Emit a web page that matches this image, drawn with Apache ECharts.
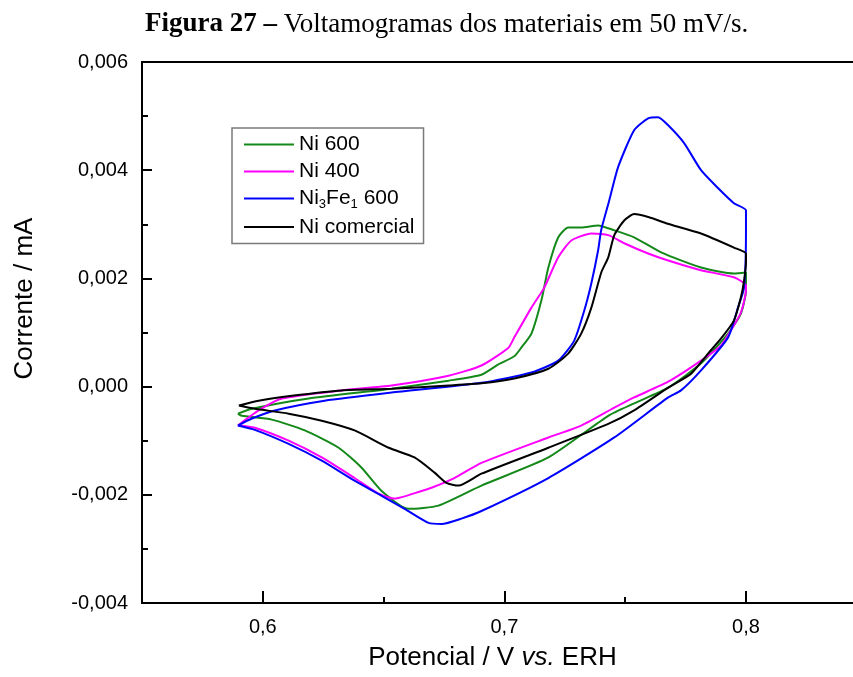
<!DOCTYPE html>
<html><head><meta charset="utf-8">
<script src="https://cdn.jsdelivr.net/npm/echarts@6/dist/echarts.min.js"></script>
<style>html,body{margin:0;padding:0;background:#fff}#c{width:853px;height:677px}</style>
</head><body><div id="c"></div>
<script>
// ---- data: [potential V, current mA] ordered along the sweep loop ----
const seriesNames = ['Ni 600', 'Ni 400', 'Ni3Fe1 600', 'Ni comercial'];
const seriesColors = ['#14891a', '#ff00ff', '#0000ff', '#000000'];

const ni600 = [
  [0.5897,-0.0005],[0.5955,-0.00041],[0.619,-0.00022],[0.6533,-0.00004],[0.6769,0.00011],
  [0.6905,0.00022],[0.6975,0.00041],[0.7041,0.00056],[0.707,0.00072],[0.7112,0.00098],
  [0.7153,0.00159],[0.7182,0.0022],[0.7223,0.00276],[0.7264,0.00294],[0.7318,0.00294],
  [0.7388,0.00298],[0.7455,0.00289],[0.7537,0.00276],[0.7649,0.00248],[0.7814,0.0022],
  [0.795,0.00209],[0.8,0.00211],
  [0.8,0.00178],[0.7979,0.00135],[0.7926,0.00098],[0.7814,0.00043],[0.7678,-0.00002],
  [0.7537,-0.00031],[0.743,-0.00054],[0.7182,-0.00131],[0.6905,-0.00183],[0.6727,-0.0022],
  [0.6603,-0.00226],[0.6492,-0.00193],[0.6409,-0.0015],[0.6314,-0.00113],[0.6174,-0.00081],
  [0.6037,-0.00061],[0.5913,-0.00054],[0.5897,-0.0005]
];

const ni400 = [
  [0.5897,-0.00072],[0.5983,-0.00044],[0.6079,-0.00022],[0.6326,-0.00007],[0.6533,0.00002],
  [0.6769,0.0002],[0.6905,0.00039],[0.7017,0.00072],[0.7041,0.00091],[0.7112,0.00146],
  [0.7165,0.00183],[0.7223,0.00239],[0.7277,0.0027],[0.736,0.00283],[0.743,0.0028],
  [0.7496,0.00265],[0.7595,0.00246],[0.7678,0.00233],[0.7814,0.00215],[0.795,0.00202],
  [0.8,0.00187],
  [0.8,0.00178],[0.7979,0.00137],[0.7938,0.00104],[0.7897,0.00076],[0.7814,0.00048],
  [0.7678,0.00009],[0.7537,-0.0002],[0.7455,-0.00039],[0.7318,-0.00072],[0.7182,-0.00094],
  [0.6905,-0.00141],[0.6793,-0.00169],[0.6698,-0.00187],[0.6657,-0.00193],[0.6545,-0.00207],
  [0.6479,-0.00198],[0.638,-0.00169],[0.6244,-0.00131],[0.6107,-0.001],[0.5967,-0.00076],
  [0.5897,-0.00072]
];

const ni3fe1_600 = [
  [0.5897,-0.00072],[0.5955,-0.00059],[0.605,-0.00044],[0.6256,-0.00026],[0.6533,-0.00011],
  [0.6905,0.00007],[0.7112,0.00026],[0.7223,0.00048],[0.7289,0.00085],[0.7331,0.00141],
  [0.736,0.00191],[0.7388,0.00252],[0.7401,0.0029],[0.7434,0.00344],[0.7471,0.00406],
  [0.7537,0.00474],[0.7595,0.00496],[0.7636,0.00498],[0.7678,0.00483],[0.7744,0.0045],
  [0.7814,0.004],[0.7884,0.00367],[0.795,0.00339],[0.8,0.00326],
  [0.8,0.0029],[0.7992,0.00183],[0.7967,0.00146],[0.7926,0.00091],[0.7814,0.0003],
  [0.7731,-0.00007],[0.7678,-0.0002],[0.7455,-0.00094],[0.7182,-0.00169],[0.6905,-0.0023],
  [0.6822,-0.00244],[0.674,-0.00254],[0.6686,-0.00252],[0.6587,-0.00226],[0.6492,-0.00202],
  [0.638,-0.00174],[0.6244,-0.00137],[0.6107,-0.00106],[0.5967,-0.0008],[0.5897,-0.00072]
];

const niComercial = [
  [0.5901,-0.00035],[0.5983,-0.00026],[0.612,-0.00017],[0.6326,-0.00007],[0.6533,-0.00004],
  [0.6769,0.00002],[0.6905,0.00006],[0.7041,0.00015],[0.7182,0.00033],[0.7264,0.00061],
  [0.7318,0.00098],[0.736,0.00146],[0.7401,0.00211],[0.743,0.00239],[0.7455,0.0028],
  [0.7496,0.00307],[0.7537,0.00319],[0.7599,0.00313],[0.7669,0.00302],[0.7814,0.00283],
  [0.795,0.00257],[0.8,0.00246],
  [0.8,0.0023],[0.7992,0.00196],[0.7979,0.00165],[0.795,0.00122],[0.7897,0.00089],
  [0.7843,0.00061],[0.7773,0.00024],[0.7678,-0.00002],[0.7537,-0.00044],[0.743,-0.00069],
  [0.7182,-0.00113],[0.6905,-0.00161],[0.681,-0.00183],[0.676,-0.00178],[0.6711,-0.00159],
  [0.6628,-0.00131],[0.6521,-0.00113],[0.638,-0.00081],[0.6244,-0.00063],[0.6107,-0.0005],
  [0.5967,-0.00041],[0.5901,-0.00035]
];

const xMajorTicks = [0.6, 0.7, 0.8];
const xMinorTicks = [0.65, 0.75];
const yRange = [-0.004, 0.006];
const yStep = 0.002;
const xRange = [0.55, 0.8443];

const titleBold = 'Figura 27 – ';
const titleRest = 'Voltamogramas dos materiais em 50 mV/s.';
const yName = 'Corrente / mA';

// ---- chart ----
const SANS = 'Liberation Sans, Arial, sans-serif';
const SERIF = 'Liberation Serif, Times New Roman, serif';
const seriesData = [ni600, ni400, ni3fe1_600, niComercial];
const axisColor = '#000';

const chart = echarts.init(document.getElementById('c'), null, {renderer: 'canvas'});
chart.setOption({
  animation: false,
  backgroundColor: '#fff',
  title: {
    text: '{b|' + titleBold + '}{r|' + titleRest + '}',
    left: 145, top: 11, padding: 0,
    textStyle: {
      fontWeight: 'normal',
      rich: {
        b: {fontFamily: SERIF, fontWeight: 'bold', fontSize: 27, color: '#000'},
        r: {fontFamily: SERIF, fontWeight: 'normal', fontSize: 27, color: '#000'}
      }
    }
  },
  legend: {
    orient: 'vertical', left: 232, top: 128,
    padding: [6, 9, 6, 12], itemGap: 6, itemWidth: 50, itemHeight: 2,
    icon: 'rect',
    backgroundColor: '#fff', borderColor: '#7a7a7a', borderWidth: 1.5,
    data: seriesNames,
    formatter: function (n) {
      if (n === 'Ni3Fe1 600') return '{a|Ni}{s|3}{a|Fe}{s|1}{a| 600}';
      return '{a|' + n + '}';
    },
    textStyle: {
      fontFamily: SANS, fontSize: 21, color: '#000',
      rich: {
        a: {fontFamily: SANS, fontSize: 21, color: '#000'},
        s: {fontFamily: SANS, fontSize: 13, color: '#000', padding: [11, 0, 0, 0]}
      }
    }
  },
  grid: {left: 142, right: 0, top: 62, bottom: 74, containLabel: false},
  xAxis: [
    {
      type: 'value', min: xRange[0], max: xRange[1], position: 'bottom',
      axisLine: {show: true, onZero: false, lineStyle: {color: axisColor, width: 2}},
      axisTick: {show: true, inside: true, length: 12, customValues: xMajorTicks,
                 lineStyle: {color: axisColor, width: 2}},
      axisLabel: {show: true, customValues: xMajorTicks, margin: 14,
                  formatter: v => v.toFixed(1).replace('.', ','),
                  fontFamily: SANS, fontSize: 20, color: '#000'},
      splitLine: {show: false},
      name: '{n|Potencial / V }{i|vs.}{n| ERH}',
      nameLocation: 'middle', nameGap: 42,
      nameTextStyle: {
        padding: [0, 10, 0, 0],
        rich: {
          n: {fontFamily: SANS, fontSize: 26, color: '#000'},
          i: {fontFamily: SANS, fontSize: 26, fontStyle: 'italic', color: '#000'}
        }
      }
    },
    {
      type: 'value', min: xRange[0], max: xRange[1], position: 'bottom',
      axisLine: {show: false, onZero: false},
      axisTick: {show: true, inside: true, length: 6, customValues: xMinorTicks,
                 lineStyle: {color: axisColor, width: 2}},
      axisLabel: {show: false}, splitLine: {show: false}
    },
    {
      type: 'value', min: xRange[0], max: xRange[1], position: 'top',
      axisLine: {show: true, onZero: false, lineStyle: {color: axisColor, width: 2}},
      axisTick: {show: false}, axisLabel: {show: false}, splitLine: {show: false}
    }
  ],
  yAxis: [{
    type: 'value', min: yRange[0], max: yRange[1], interval: yStep,
    axisLine: {show: true, onZero: false, lineStyle: {color: axisColor, width: 2}},
    axisTick: {show: true, inside: true, length: 10, lineStyle: {color: axisColor, width: 2}},
    minorTick: {show: true, splitNumber: 2, length: 6, lineStyle: {color: axisColor, width: 2}},
    axisLabel: {margin: 14, fontFamily: SANS, fontSize: 20, color: '#000',
      formatter: v => (Math.abs(v) < 1e-12 ? 0 : v).toFixed(3).replace('.', ',')},
    splitLine: {show: false},
    name: yName, nameLocation: 'middle', nameGap: 104,
    nameTextStyle: {fontFamily: SANS, fontSize: 26, color: '#000', padding: [0, 0, 0, 68]}
  }],
  series: seriesNames.map((name, i) => ({
    name: name, type: 'line', xAxisIndex: 0, yAxisIndex: 0,
    data: seriesData[i], showSymbol: false, symbol: 'none',
    smooth: 0.2, clip: true,
    lineStyle: {color: seriesColors[i], width: 2},
    itemStyle: {color: seriesColors[i]}
  }))
});
</script></body></html>
